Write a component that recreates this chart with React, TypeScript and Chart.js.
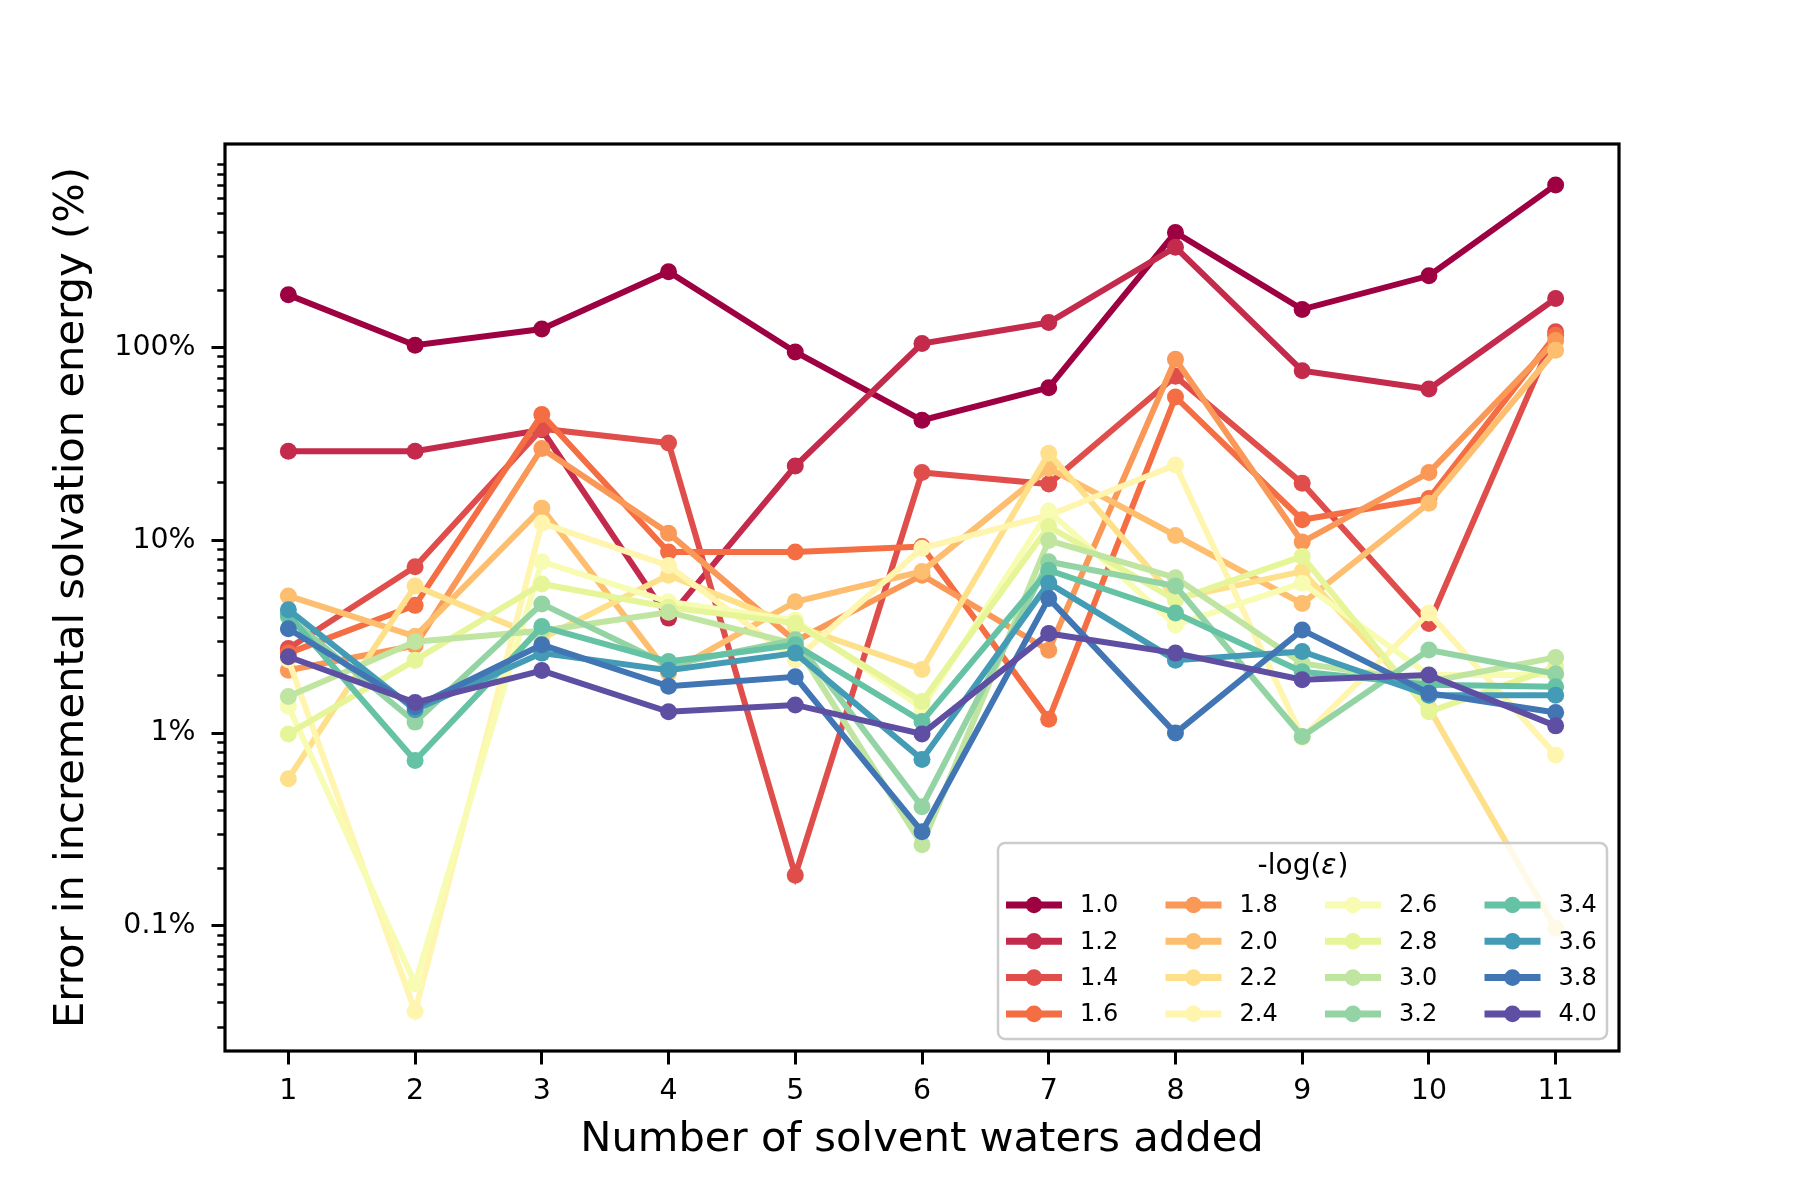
import React, { useEffect, useRef } from 'react';
import { Chart, registerables } from 'chart.js';

Chart.register(...registerables);

const FONT = '"DejaVu Sans", sans-serif';

// number of solvent waters added
const waters = ['1', '2', '3', '4', '5', '6', '7', '8', '9', '10', '11'];

// -log(eps) for each curve
const epsLabels = ['1.0', '1.2', '1.4', '1.6', '1.8', '2.0', '2.2', '2.4', '2.6', '2.8', '3.0', '3.2', '3.4', '3.6', '3.8', '4.0'];

// error in incremental solvation energy, in %
const eps10 = [188, 103, 125, 248, 95, 42, 62, 396, 158, 236, 699];
const eps12 = [29, 29, 37.5, 3.95, 24.3, 105, 135, 332, 76, 61, 180];
const eps14 = [2.75, 7.3, 38, 32, 0.183, 22.5, 19.6, 71, 19.8, 3.7, 121];
const eps16 = [2.6, 4.6, 45, 8.7, 8.7, 9.3, 1.18, 55.5, 12.8, 16.5, 116];
const eps18 = [2.12, 2.85, 30, 10.9, 3.0, 6.6, 2.69, 87, 9.8, 22.5, 109];
const eps20 = [5.15, 3.18, 14.7, 2.05, 4.8, 6.9, 23.7, 10.6, 4.7, 15.6, 97];
const eps22 = [0.58, 5.8, 3.1, 6.6, 3.6, 2.14, 28.3, 5.0, 6.9, 1.35, 0.097];
const eps24 = [2.4, 0.036, 12.3, 7.4, 2.4, 9.1, 13.5, 24.6, 0.95, 4.2, 0.77];
const eps26 = [1.38, 0.05, 7.75, 4.8, 3.85, 1.35, 14.2, 3.64, 6.0, 2.0, 2.0];
const eps28 = [0.99, 2.39, 5.94, 4.5, 3.72, 1.46, 11.8, 4.9, 8.26, 1.29, 2.2];
const eps30 = [1.55, 2.98, 3.4, 4.24, 2.9, 0.263, 10.0, 6.4, 2.3, 1.85, 2.47];
const eps32 = [4.0, 1.14, 4.68, 2.25, 3.05, 0.415, 7.75, 5.8, 0.96, 2.7, 2.03];
const eps34 = [4.1, 0.72, 3.57, 2.35, 2.87, 1.15, 7.0, 4.2, 2.08, 1.78, 1.74];
const eps36 = [4.37, 1.32, 2.6, 2.12, 2.6, 0.73, 6.0, 2.39, 2.65, 1.57, 1.57];
const eps38 = [3.48, 1.37, 2.87, 1.75, 1.96, 0.308, 5.0, 1.0, 3.43, 1.61, 1.28];
const eps40 = [2.49, 1.44, 2.11, 1.29, 1.4, 0.99, 3.29, 2.6, 1.89, 2.0, 1.09];

const series = [eps10, eps12, eps14, eps16, eps18, eps20, eps22, eps24, eps26, eps28, eps30, eps32, eps34, eps36, eps38, eps40];

// Spectral colormap sampled at 16 steps
const lineColors = [
  '#9e0142', '#c32a4b', '#df4e4b', '#f46d43', '#fa9857', '#fdbf6f', '#fee08b', '#fff5ae',
  '#f7fcb2', '#e6f598', '#bfe5a0', '#94d4a4', '#66c2a5', '#439bb5', '#4175b4', '#5e4fa2',
];

const yMajorTicks = [0.1, 1, 10, 100];
const yTickLabels = ['0.1%', '1%', '10%', '100%'];
const yMin = 0.0224;
const yMax = 1140;

// minor ticks 2..9 in each decade (none drawn at 1000%)
const yMinorTicks: number[] = [];
[0.01, 0.1, 1, 10, 100].forEach((d) => {
  for (let k = 2; k <= 9; k++) {
    const v = +(d * k).toPrecision(3);
    if (v > yMin && v < yMax) yMinorTicks.push(v);
  }
});

const framePlugin = {
  id: 'frameAndMinor',
  afterDraw(chart: any) {
    const { ctx, chartArea: a, scales } = chart;
    const ys = scales.y;
    ctx.save();
    ctx.strokeStyle = '#000';
    ctx.lineWidth = 2.5;
    yMinorTicks.forEach((v) => {
      const py = Math.round(ys.getPixelForValue(v)) + 0.5;
      ctx.beginPath();
      ctx.moveTo(a.left, py);
      ctx.lineTo(a.left - 7.7, py);
      ctx.stroke();
    });
    ctx.lineWidth = 3.2;
    ctx.strokeRect(a.left, a.top, a.right - a.left, a.bottom - a.top);
    ctx.restore();
  },
};

const legendPlugin = {
  id: 'boxLegend',
  afterDraw(chart: any) {
    const { ctx, chartArea: a } = chart;
    const w = 609;
    const h = 196;
    const x0 = a.right - 12 - w;
    const y0 = a.bottom - 12 - h;
    ctx.save();
    ctx.beginPath();
    ctx.roundRect(x0, y0, w, h, 7);
    ctx.fillStyle = 'rgba(255,255,255,0.8)';
    ctx.fill();
    ctx.strokeStyle = '#cccccc';
    ctx.lineWidth = 2.5;
    ctx.stroke();

    // title -log(ε)
    ctx.fillStyle = '#000';
    ctx.textBaseline = 'middle';
    ctx.textAlign = 'left';
    const up = `28px ${FONT}`;
    const it = `italic 28px ${FONT}`;
    ctx.font = up;
    const w1 = ctx.measureText('-log(').width;
    const w3 = ctx.measureText(')').width;
    ctx.font = it;
    const w2 = ctx.measureText('ε').width;
    let tx = x0 + w / 2 - (w1 + w2 + w3) / 2;
    const ty = y0 + 24;
    ctx.font = up;
    ctx.fillText('-log(', tx, ty);
    tx += w1;
    ctx.font = it;
    ctx.fillText('ε', tx, ty);
    tx += w2 + 1;
    ctx.font = up;
    ctx.fillText(')', tx, ty);

    ctx.font = `24px ${FONT}`;
    chart.data.datasets.forEach((ds: any, i: number) => {
      const col = Math.floor(i / 4);
      const row = i % 4;
      const hx = x0 + 8 + col * 159.5;
      const cy = y0 + 62 + row * 36.3;
      ctx.strokeStyle = ds.borderColor;
      ctx.lineWidth = 7;
      ctx.beginPath();
      ctx.moveTo(hx, cy);
      ctx.lineTo(hx + 56, cy);
      ctx.stroke();
      ctx.fillStyle = ds.borderColor;
      ctx.beginPath();
      ctx.arc(hx + 28, cy, 8.3, 0, Math.PI * 2);
      ctx.fill();
      ctx.fillStyle = '#000';
      ctx.fillText(ds.label, hx + 74, cy + 1);
    });
    ctx.restore();
  },
};

export default function App() {
  const canvasRef = useRef<HTMLCanvasElement | null>(null);

  useEffect(() => {
    if (!canvasRef.current) return;
    const datasets = series.map((values, i) => ({
      label: epsLabels[i],
      data: values,
      borderColor: lineColors[i],
      backgroundColor: lineColors[i],
      pointBackgroundColor: lineColors[i],
      pointBorderWidth: 0,
      pointRadius: 8.5,
      pointHoverRadius: 8.5,
      borderWidth: 6,
      tension: 0,
      fill: false,
      order: series.length - i,
    }));

    const chart = new Chart(canvasRef.current, {
      type: 'line',
      data: { labels: waters, datasets },
      options: {
        animation: false,
        responsive: false,
        devicePixelRatio: 1,
        events: [],
        layout: { padding: { left: 0, top: 144, right: 181, bottom: 0 } },
        plugins: {
          legend: { display: false },
          tooltip: { enabled: false },
        },
        scales: {
          x: {
            type: 'category',
            offset: true,
            border: { display: false },
            grid: {
              display: true,
              drawOnChartArea: false,
              drawTicks: true,
              tickLength: 13.5,
              tickWidth: 3,
              tickColor: '#000',
              offset: false,
            },
            ticks: {
              color: '#000',
              font: { family: FONT, size: 28.4 },
              padding: 10,
              autoSkip: false,
              maxRotation: 0,
            },
            title: {
              display: true,
              text: 'Number of solvent waters added',
              color: '#000',
              font: { family: FONT, size: 41.7, lineHeight: 1.2 },
              padding: { top: 0, bottom: 35 },
            },
            afterFit: (s: any) => {
              s.height = 149;
            },
          },
          y: {
            type: 'logarithmic',
            min: yMin,
            max: yMax,
            bounds: 'data',
            border: { display: false },
            afterBuildTicks: (s: any) => {
              s.ticks = yMajorTicks.map((v) => ({ value: v, major: true }));
            },
            grid: {
              display: true,
              drawOnChartArea: false,
              drawTicks: true,
              tickLength: 13.5,
              tickWidth: 3,
              tickColor: '#000',
            },
            ticks: {
              color: '#000',
              font: { family: FONT, size: 28.4 },
              padding: 16,
              autoSkip: false,
              callback: (v: any) => {
                const k = yMajorTicks.indexOf(Number(v));
                return k >= 0 ? yTickLabels[k] : '';
              },
            },
            title: {
              display: true,
              text: 'Error in incremental solvation energy (%)',
              color: '#000',
              font: { family: FONT, size: 41.7, lineHeight: 1.2 },
              padding: { top: 47.5, bottom: 0 },
            },
            afterFit: (s: any) => {
              s.width = 225;
            },
          },
        },
      } as any,
      plugins: [framePlugin, legendPlugin],
    });

    return () => {
      chart.destroy();
    };
  }, []);

  return (
    <div style={{ position: 'absolute', left: 0, top: 0, width: 1800, height: 1200, background: '#fff' }}>
      <canvas ref={canvasRef} width={1800} height={1200} style={{ display: 'block' }} />
    </div>
  );
}
